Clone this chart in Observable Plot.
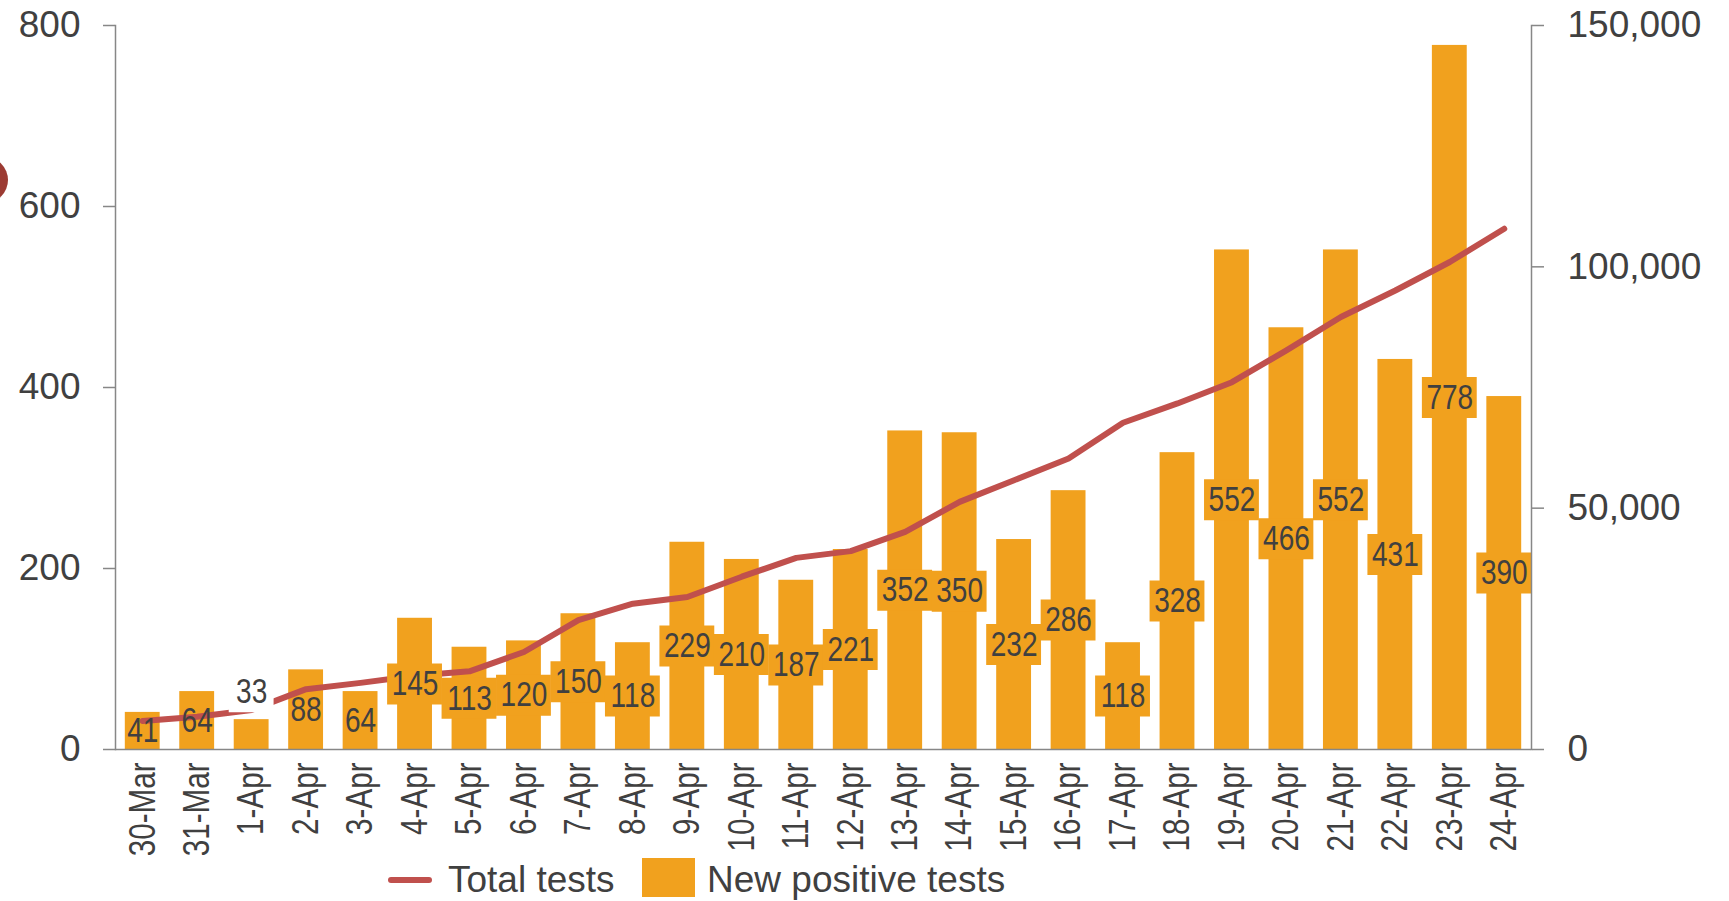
<!DOCTYPE html>
<html>
<head>
<meta charset="utf-8">
<script src="https://cdn.jsdelivr.net/npm/d3@7"></script>
<script src="https://cdn.jsdelivr.net/npm/@observablehq/plot@0.6"></script>
<style>
  html, body { margin: 0; padding: 0; background: #fff; overflow: hidden; }
  body { width: 1729px; height: 901px; position: relative; }
  #chart { position: absolute; left: 0; top: 0; }
  #chart svg { display: block; }
  .dot { position: absolute; left: -38px; top: 157px; width: 46px; height: 46px; border-radius: 50%; background: #9c3b33; z-index: 2; }
  .legend { position: absolute; left: 0; top: 855px; width: 1729px; height: 46px;
            font-family: "Liberation Sans", Arial, sans-serif; font-size: 37px; color: #404040; }
  .legend > * { position: absolute; }
  .legend .ln { left: 388px; top: 22px; width: 44px; height: 6px; border-radius: 3px; background: #c0504d; }
  .legend .t1 { left: 448px; top: 2px; line-height: 46px; white-space: nowrap; }
  .legend .sq { left: 642px; top: 3px; width: 53px; height: 39px; background: #f1a11e; }
  .legend .t2 { left: 707px; top: 2px; line-height: 46px; white-space: nowrap; }
</style>
</head>
<body>
<div id="chart"></div>
<div class="dot"></div>
<div class="legend"><span class="ln"></span><span class="t1">Total tests</span><span class="sq"></span><span class="t2">New positive tests</span></div>
<script>
const dates = ["30-Mar","31-Mar","1-Apr","2-Apr","3-Apr","4-Apr","5-Apr","6-Apr","7-Apr","8-Apr","9-Apr","10-Apr","11-Apr","12-Apr","13-Apr","14-Apr","15-Apr","16-Apr","17-Apr","18-Apr","19-Apr","20-Apr","21-Apr","22-Apr","23-Apr","24-Apr"];
const newPositive = [41,64,33,88,64,145,113,120,150,118,229,210,187,221,352,350,232,286,118,328,552,466,552,431,778,390];
const totalTests = [5900,6800,8200,12500,13800,15300,16200,20200,26800,30200,31600,35800,39700,41100,45100,51300,55800,60300,67700,71700,76100,82700,89600,95100,101000,107900];
const leftTicks = [0,200,400,600,800];
const rightTicks = [0,50000,100000,150000];

const leftMax = 800, rightMax = 150000;
const ratio = rightMax / leftMax;

const data = dates.map((d, i) => ({date: d, pos: newPositive[i], total: totalTests[i]}));
const inside = data.filter(d => d.pos >= 40);
const wide = inside.filter(d => d.pos >= 100);
const outside = data.filter(d => d.pos < 40);

const BAR = "#f1a11e", LINE = "#c0504d", TXT = "#404040", AX = "#878787";
const SANS = "'Liberation Sans', Arial, sans-serif";

const chart = Plot.plot({
  width: 1729,
  height: 862,
  marginLeft: 115,
  marginRight: 198,
  marginTop: 25,
  marginBottom: 113,
  style: {fontFamily: SANS, color: TXT, background: "transparent"},
  x: {domain: dates, paddingInner: 0.36, paddingOuter: 0.18, round: false},
  y: {domain: [0, leftMax]},
  marks: [
    Plot.barY(data, {x: "date", y: "pos", fill: BAR}),
    Plot.lineY(data, {x: "date", y: d => d.total / ratio, stroke: LINE, strokeWidth: 6, strokeLinecap: "round", strokeLinejoin: "round"}),
    Plot.tickY(wide, {x: "date", y: d => d.pos / 2, stroke: BAR, strokeWidth: 41, insetLeft: -10, insetRight: -10}),
    Plot.tickY(outside, {x: "date", y: "pos", dy: -28, stroke: "#fff", strokeWidth: 41, insetLeft: -5, insetRight: -5}),
    Plot.text(inside, {x: "date", y: d => d.pos / 2, text: d => String(d.pos), fill: TXT, fontSize: 35, fontFamily: SANS, className: "squeeze"}),
    Plot.text(outside, {x: "date", y: "pos", dy: -28, text: d => String(d.pos), fill: TXT, fontSize: 35, fontFamily: SANS, className: "squeeze"}),
    Plot.frame({anchor: "left", stroke: AX, strokeWidth: 1.5}),
    Plot.frame({anchor: "right", stroke: AX, strokeWidth: 1.5}),
    Plot.ruleY([0], {stroke: AX, strokeWidth: 1.5}),
    Plot.axisY(leftTicks, {anchor: "left", tickSize: 12, tickPadding: 23, stroke: AX, strokeWidth: 1.5, fill: TXT, fontSize: 37, fontFamily: SANS, tickFormat: d => String(d), label: null}),
    Plot.axisY(rightTicks.map(v => v / ratio), {anchor: "right", tickSize: 12, tickPadding: 24, stroke: AX, strokeWidth: 1.5, fill: TXT, fontSize: 37, fontFamily: SANS, tickFormat: d => d3.format(",")(Math.round(d * ratio)), label: null}),
    Plot.axisX({anchor: "bottom", tickSize: 0, tickPadding: 13, tickRotate: -90, fill: TXT, fontSize: 37, fontFamily: SANS, label: null, className: "squeeze"})
  ]
});
document.getElementById("chart").appendChild(chart);

// condense the date and value labels like the original condensed face
d3.select(chart).selectAll(".squeeze text, g[aria-label='x-axis tick label'] text").each(function() {
  const L = this.getComputedTextLength();
  this.setAttribute("textLength", (L * 0.8).toFixed(1));
  this.setAttribute("lengthAdjust", "spacingAndGlyphs");
});
</script>
</body>
</html>
